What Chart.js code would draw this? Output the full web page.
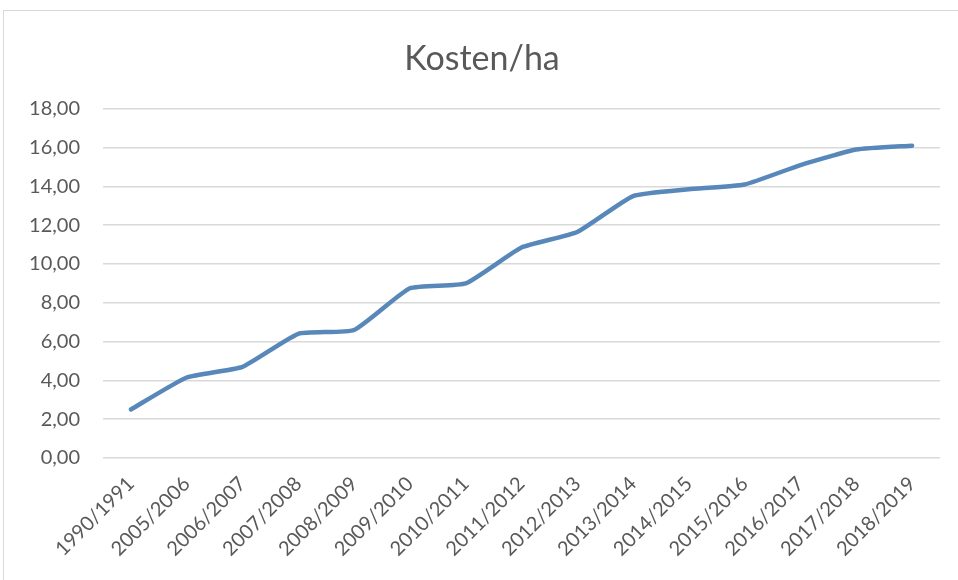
<!DOCTYPE html>
<html lang="de">
<head>
    <meta charset="UTF-8">
    <title>Kosten/ha</title>
    <script src="https://cdn.jsdelivr.net/npm/chart.js"></script>
    <style>
        html, body { margin: 0; padding: 0; background: #fff; overflow: hidden; }
        .frame {
            position: absolute; left: 3px; top: 10px;
            width: 1000px; height: 620px;
            border: 1px solid #d9d9d9;
        }
        .wrap { position: absolute; left: 0; top: 0; width: 958px; height: 580px; }
    </style>
</head>
<body>
    <div class="frame"></div>
    <div class="wrap"><canvas id="chart"></canvas></div>
    <script>
        // Kosten je Hektar pro Wirtschaftsjahr
        const seasons = [
            '1990/1991', '2005/2006', '2006/2007', '2007/2008', '2008/2009',
            '2009/2010', '2010/2011', '2011/2012', '2012/2013', '2013/2014',
            '2014/2015', '2015/2016', '2016/2017', '2017/2018', '2018/2019'
        ];
        const kosten = [2.5, 4.15, 4.7, 6.4, 6.6, 8.75, 9.0, 10.85, 11.65, 13.5, 13.85, 14.1, 15.1, 15.9, 16.1];

        const textColor = '#595959';
        const font = 'Lato, "Open Sans", sans-serif';

        new Chart(document.getElementById('chart'), {
            type: 'line',
            data: {
                labels: seasons,
                datasets: [{
                    label: 'Kosten/ha',
                    data: kosten,
                    borderColor: '#5887ba',
                    borderWidth: 4.5,
                    pointRadius: 0,
                    tension: 0.15,
                    borderJoinStyle: 'round',
                    borderCapStyle: 'round',
                    fill: false
                }]
            },
            options: {
                responsive: true,
                maintainAspectRatio: false,
                animation: false,
                // some left padding so the title sits a bit right of centre, like in Excel
                layout: { padding: { top: 0, right: 18, bottom: 0, left: 24 } },
                plugins: {
                    legend: { display: false },
                    tooltip: { enabled: false },
                    title: {
                        display: true,
                        text: 'Kosten/ha',
                        color: textColor,
                        font: { family: font, size: 34, weight: 'normal', lineHeight: 1.2 },
                        padding: { top: 39, bottom: 29 }
                    }
                },
                scales: {
                    x: {
                        offset: true,
                        grid: { display: false },
                        border: { display: false },
                        ticks: {
                            color: textColor,
                            font: { family: font, size: 20 },
                            minRotation: 45,
                            maxRotation: 45,
                            padding: 6,
                            autoSkip: false
                        },
                        afterFit: (scale) => { scale.height = 122; }
                    },
                    y: {
                        min: 0,
                        max: 18,
                        border: { display: false },
                        grid: { color: '#d9d9d9', lineWidth: 1.5, drawTicks: false },
                        ticks: {
                            stepSize: 2,
                            color: textColor,
                            font: { family: font, size: 20 },
                            padding: 23,
                            callback: (v) => v.toFixed(2).replace('.', ',')
                        },
                        afterFit: (scale) => { scale.width = 79; }
                    }
                }
            }
        });
    </script>
</body>
</html>
